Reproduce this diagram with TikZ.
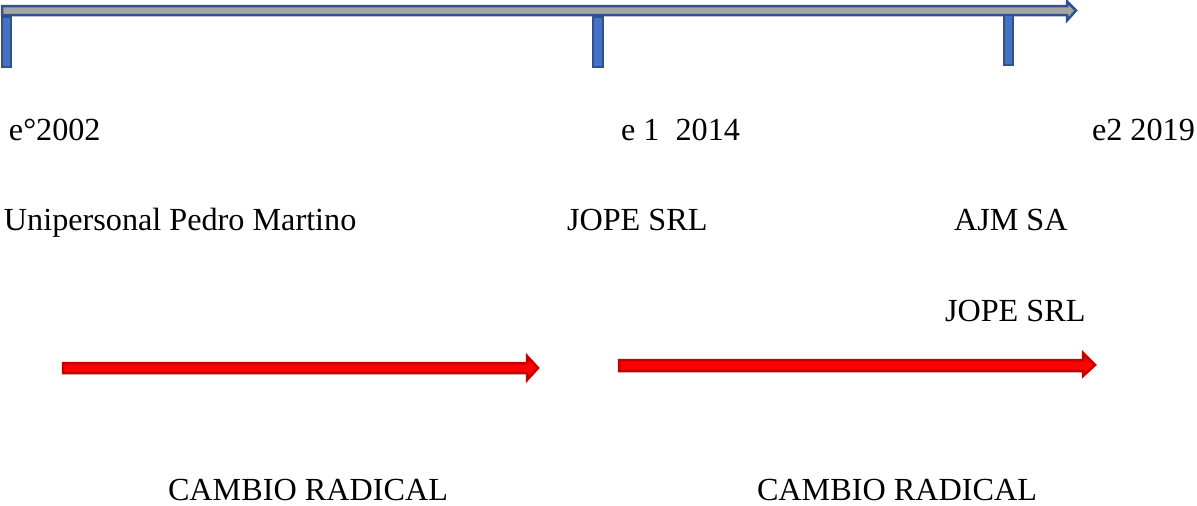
\documentclass[tikz,border=0pt]{standalone}
\usepackage{fontspec}
\setmainfont{Liberation Serif}
\definecolor{axisfill}{HTML}{A5A5A5}
\definecolor{axisline}{HTML}{2F528F}
\definecolor{tickfill}{HTML}{4472C4}
\definecolor{redfill}{HTML}{FF0000}
\definecolor{redline}{HTML}{C00000}
\tikzset{
  label text/.style={anchor=base west, inner sep=0pt, outer sep=0pt,
    font=\fontsize{32.2}{39}\selectfont},
  axis arrow/.style={fill=axisfill, draw=axisline, line width=2.5pt, line join=miter},
  tick mark/.style={fill=tickfill, draw=axisline, line width=2.5pt},
  change arrow/.style={fill=redfill, draw=redline, line width=2.5pt, line join=miter}
}
\begin{document}
\begin{tikzpicture}[x=1pt, y=-1pt]
\useasboundingbox (0,0) rectangle (1197,506);

% timeline axis with its arrow head
\draw[axis arrow] (2,6) -- (1067,6) -- (1067,1.5) -- (1076,10.5) -- (1067,20.5)
  -- (1067,15) -- (2,15) -- cycle;

% year marks on the axis
\draw[tick mark] (2.2,17) rectangle (11,67);
\draw[tick mark] (593,17) rectangle (603,67);
\draw[tick mark] (1004,15) rectangle (1013,65);

% stages
\node[label text] (y1) at (9,140) {e°2002};
\node[label text] (y2) at (621,140) {e 1\ \ 2014};
\node[label text] (y3) at (1092,140) {e2 2019};

\node[label text] (c1) at (4,230) {Unipersonal Pedro Martino};
\node[label text] (c2) at (567,230) {JOPE SRL};
\node[label text] (c3) at (954,230) {AJM SA};
\node[label text] (c4) at (945,321) {JOPE SRL};

% transitions
\draw[change arrow] (63,363) -- (527,363) -- (527,356) -- (538,368) -- (527,380)
  -- (527,373) -- (63,373) -- cycle;
\draw[change arrow] (619,360) -- (1083,360) -- (1083,353) -- (1095,365) -- (1083,376)
  -- (1083,371) -- (619,371) -- cycle;

\node[label text] (r1) at (168,500) {CAMBIO RADICAL};
\node[label text] (r2) at (757,500) {CAMBIO RADICAL};
\end{tikzpicture}
\end{document}
